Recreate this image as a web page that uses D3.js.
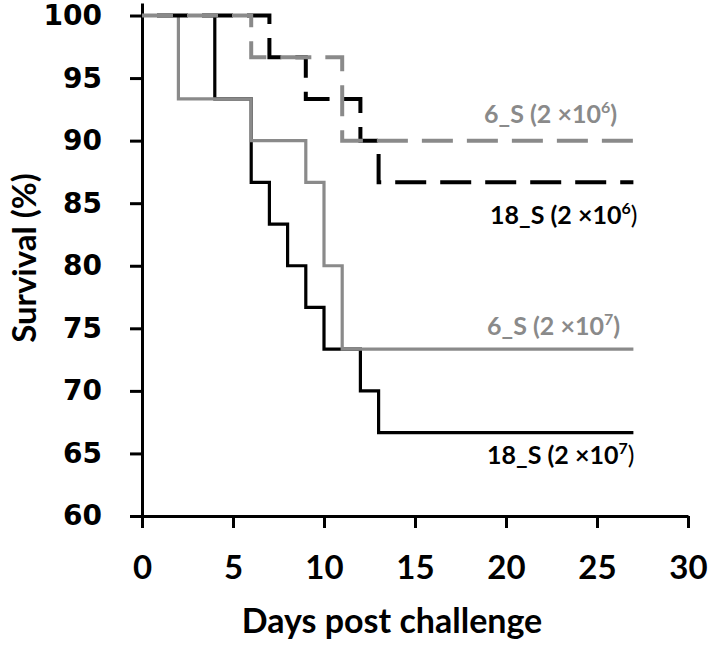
<!DOCTYPE html>
<html>
<head>
<meta charset="utf-8">
<script src="https://cdn.jsdelivr.net/npm/d3@7"></script>
<style>
  body { margin: 0; background: #fff; }
</style>
</head>
<body>
<svg id="vis"></svg>
<script>
(function() {
  // survival steps: day of change, survival (%) after that day
  var days18hi = [0, 4, 6, 7, 8, 9, 10, 12, 13, 27];
  var surv18hi = [100, 93.33, 86.67, 83.33, 80, 76.67, 73.33, 70, 66.67, 66.67];
  var days6hi = [0, 2, 6, 9, 10, 11, 27];
  var surv6hi = [100, 93.33, 90, 86.67, 80, 73.33, 73.33];
  var days18lo = [0, 7, 9, 12, 13, 27];
  var surv18lo = [100, 96.67, 93.33, 90, 86.67, 86.67];
  var days6lo = [0, 6, 11, 27];
  var surv6lo = [100, 96.67, 90, 90];

  var xTicks = [0, 5, 10, 15, 20, 25, 30];
  var yTicks = [60, 65, 70, 75, 80, 85, 90, 95, 100];

  var seriesNames = ["18_S", "6_S", "18_S", "6_S"];
  var doseExp = ["7", "7", "6", "6"];

  var width = 709, height = 655;
  var grey = "#8a8a8a";

  var chart = d3.select("#vis")
    .attr("width", width)
    .attr("height", height);

  // y axis line runs a little above 100
  var x = d3.scaleLinear().domain([0, 30]).range([142, 688]);
  var y = d3.scaleLinear().domain([60, 101]).range([516, 3]);

  var series = [
    { name: seriesNames[0], exp: doseExp[0], pts: d3.zip(days18hi, surv18hi), color: "#000", dash: null, off: 0 },
    { name: seriesNames[1], exp: doseExp[1], pts: d3.zip(days6hi, surv6hi), color: grey, dash: null, off: 0 },
    { name: seriesNames[2], exp: doseExp[2], pts: d3.zip(days18lo, surv18lo), color: "#000", dash: "31,14", off: 30 },
    { name: seriesNames[3], exp: doseExp[3], pts: d3.zip(days6lo, surv6lo), color: grey, dash: "31,14", off: 0 }
  ];

  var line = d3.line()
    .x(function(d) { return x(d[0]); })
    .y(function(d) { return y(d[1]); })
    .curve(d3.curveStepAfter);

  // axes
  var yAxis = chart.append("g")
    .attr("transform", "translate(" + x(0) + ",0)")
    .call(d3.axisLeft(y).tickValues(yTicks).tickSize(12).tickSizeOuter(0).tickPadding(28));
  yAxis.selectAll("text")
    .attr("font-family", "DejaVu Sans")
    .attr("font-weight", "bold")
    .attr("font-size", "28px")
    .attr("fill", "#000");

  var xAxis = chart.append("g")
    .attr("transform", "translate(0," + y(60) + ")")
    .call(d3.axisBottom(x).tickValues(xTicks).tickSize(12).tickSizeOuter(0).tickPadding(28));
  xAxis.selectAll("text")
    .attr("font-family", "Lato")
    .attr("font-weight", "bold")
    .attr("font-size", "33px")
    .attr("fill", "#000");

  chart.selectAll(".domain, .tick line")
    .attr("stroke", "#000")
    .attr("stroke-width", 3);

  // curves
  chart.append("g").selectAll("path")
    .data(series)
    .enter()
    .append("path")
    .attr("d", function(d) { return line(d.pts); })
    .attr("fill", "none")
    .attr("stroke", function(d) { return d.color; })
    .attr("stroke-width", function(d) { return d.dash ? 4 : 3.2; })
    .attr("stroke-dasharray", function(d) { return d.dash; })
    .attr("stroke-dashoffset", function(d) { return d.off; });

  // labels
  var labelPos = [[487, 464], [487, 335], [490, 224], [484, 123]];
  var labels = chart.append("g").selectAll("text")
    .data(series)
    .enter()
    .append("text")
    .attr("x", function(d, i) { return labelPos[i][0]; })
    .attr("y", function(d, i) { return labelPos[i][1]; })
    .attr("font-family", "Lato")
    .attr("font-weight", "bold")
    .attr("font-size", "25px")
    .attr("fill", function(d) { return d.color; });
  labels.append("tspan").text(function(d) { return d.name + " (2 \u00d710"; });
  labels.append("tspan")
    .attr("dy", -10)
    .attr("font-size", "16px")
    .text(function(d) { return d.exp; });
  labels.append("tspan")
    .attr("dy", 10)
    .attr("font-weight", function(d) { return d.color === "#000" ? "normal" : "bold"; })
    .text(")");

  // axis titles
  chart.append("text")
    .attr("x", 392)
    .attr("y", 633)
    .attr("text-anchor", "middle")
    .attr("font-family", "Lato")
    .attr("font-weight", "bold")
    .attr("font-size", "34px")
    .text("Days post challenge");

  chart.append("text")
    .attr("transform", "translate(36,258) rotate(-90)")
    .attr("text-anchor", "middle")
    .attr("font-family", "Lato")
    .attr("font-weight", "bold")
    .attr("font-size", "33px")
    .text("Survival (%)");
}());
</script>
</body>
</html>
